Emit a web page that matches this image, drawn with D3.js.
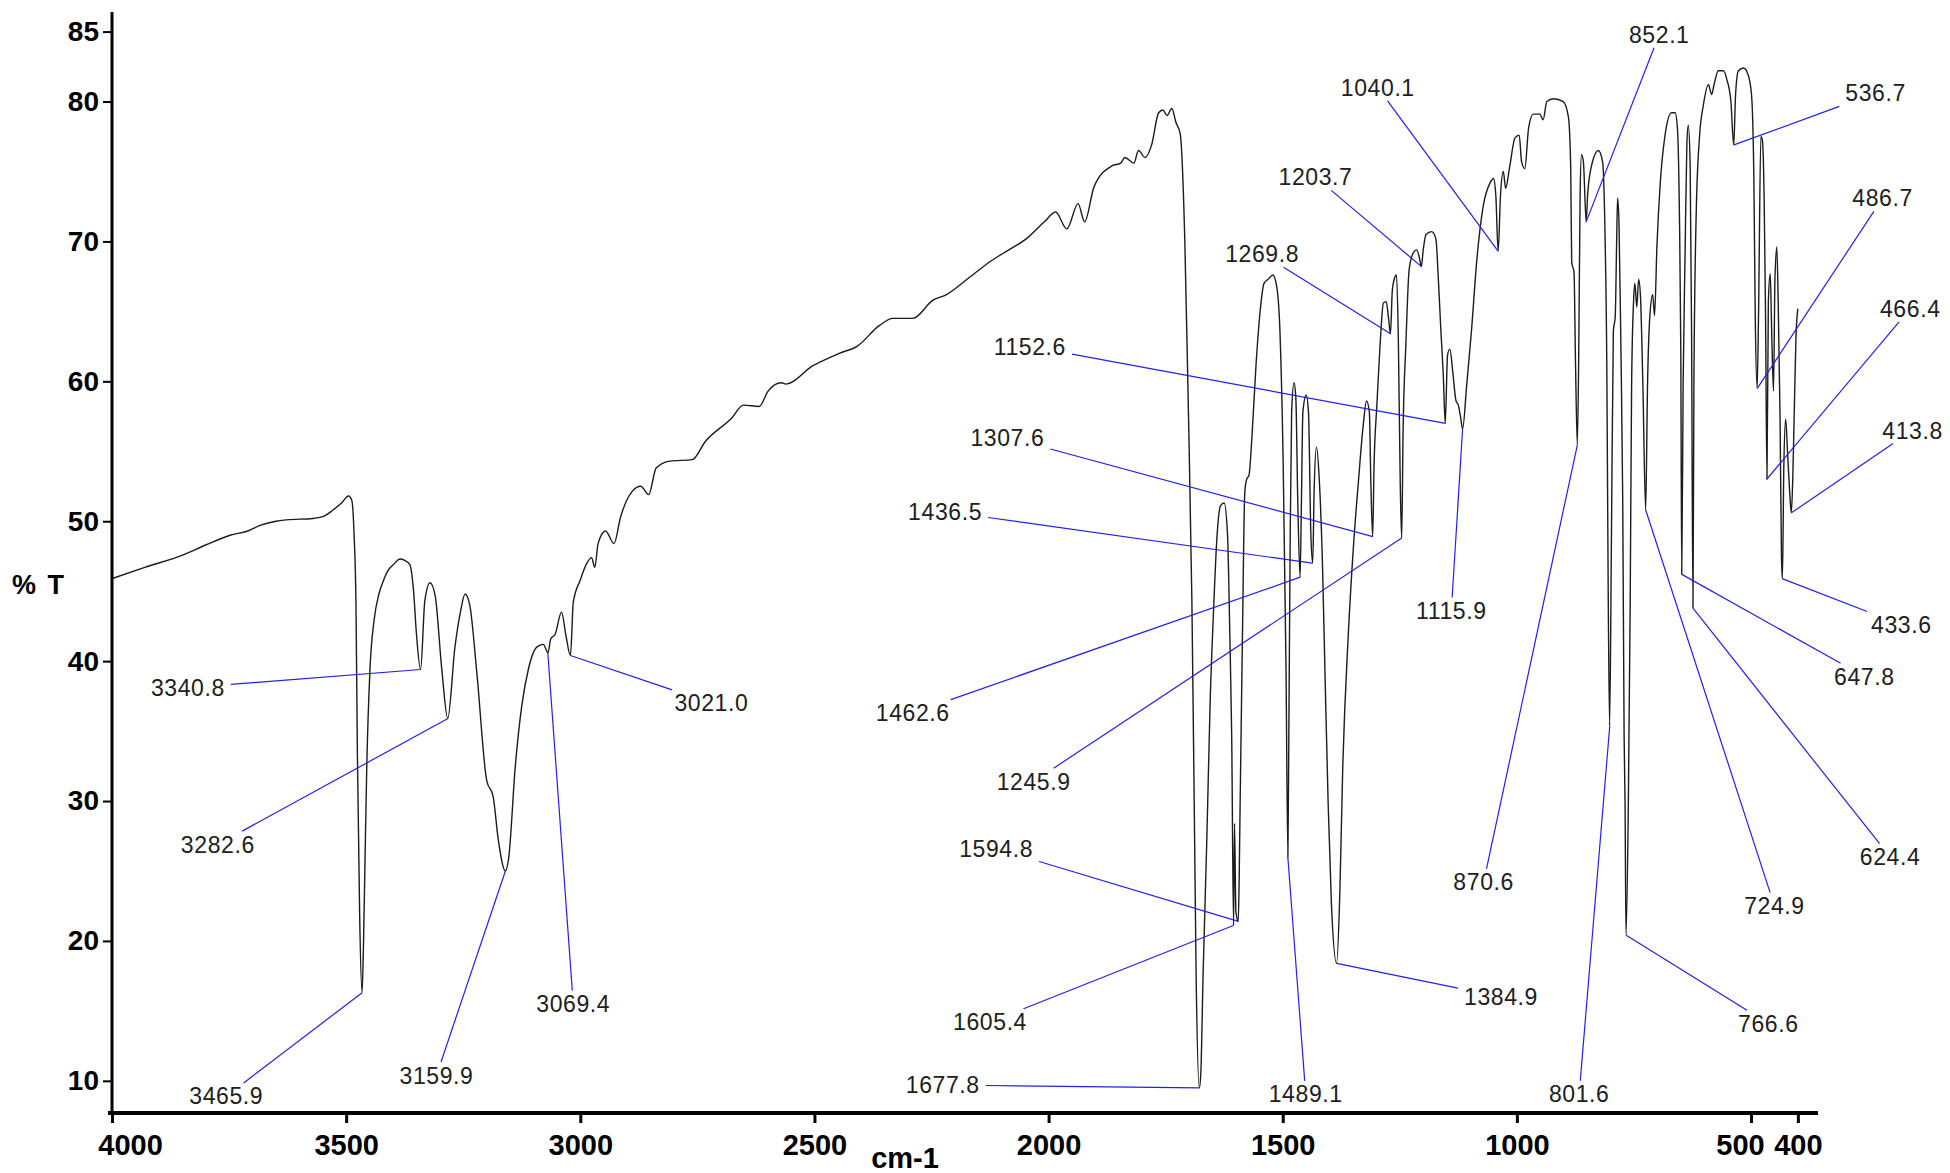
<!DOCTYPE html>
<html>
<head>
<meta charset="utf-8">
<script src="https://cdn.jsdelivr.net/npm/d3@7/dist/d3.min.js"></script>
<style>
    html, body { margin: 0; padding: 0; background: #ffffff; }
    svg { display: block; }
</style>
</head>
<body>
<svg id="ir-chart" width="1950" height="1173"></svg>
<script>
// IR spectrum: wavenumber (cm-1) and %T
const wavenumbers = [
    4000, 3930, 3848, 3800, 3748, 3710, 3684, 3650, 3627, 3571, 3545, 3528, 3510, 3495, 3488, 3483,
    3479, 3476, 3471, 3466, 3463, 3460, 3456, 3449, 3440, 3430, 3421, 3410, 3399, 3385, 3375, 3364,
    3356, 3350, 3341, 3332, 3321, 3310, 3296, 3283, 3268, 3256, 3246, 3236, 3221, 3200, 3186, 3175,
    3160, 3153, 3139, 3125, 3111, 3093, 3079, 3069, 3063, 3054, 3040, 3031, 3021, 3015, 3000, 2986,
    2976, 2969, 2962, 2946, 2928, 2914, 2890, 2871, 2854, 2838, 2809, 2761, 2733, 2676, 2652, 2618,
    2599, 2571, 2561, 2504, 2447, 2409, 2361, 2333, 2290, 2247, 2218, 2170, 2123, 2085, 2047, 2009,
    1985, 1961, 1937, 1923, 1903, 1865, 1846, 1837, 1818, 1808, 1794, 1780, 1765, 1756, 1747, 1737,
    1728, 1719, 1709, 1702, 1694, 1689, 1685, 1678, 1675, 1670, 1662, 1655, 1648, 1640, 1633, 1625,
    1618, 1613, 1609, 1605, 1603, 1600, 1595, 1593, 1591, 1586, 1581, 1577, 1572, 1566, 1557, 1548,
    1540, 1531, 1521, 1513, 1506, 1499, 1493, 1489, 1487, 1484, 1481, 1476, 1472, 1468, 1463, 1460,
    1457, 1450, 1445, 1440, 1436, 1433, 1428, 1422, 1415, 1410, 1403, 1396, 1385, 1378, 1372, 1360,
    1349, 1338, 1328, 1321, 1315, 1312, 1308, 1305, 1299, 1292, 1285, 1279, 1274, 1270, 1266, 1262,
    1257, 1253, 1249, 1246, 1243, 1237, 1230, 1221, 1214, 1208, 1204, 1200, 1194, 1182, 1173, 1168,
    1163, 1157, 1153, 1148, 1143, 1137, 1130, 1125, 1120, 1116, 1107, 1097, 1086, 1072, 1057, 1050,
    1045, 1040, 1035, 1029, 1024, 1016, 1004, 995, 990, 983, 975, 965, 951, 944, 936, 922,
    901, 890, 885, 883, 878, 875, 871, 868, 865, 862, 858, 852, 849, 840, 826, 817,
    812, 808, 805, 802, 798, 794, 790, 787, 785, 782, 778, 774, 771, 769, 767, 762,
    758, 755, 751, 748, 744, 740, 736, 731, 725, 721, 716, 710, 706, 701, 694, 684,
    670, 662, 657, 653, 650, 648, 645, 641, 637, 634, 630, 627, 624, 622, 617, 610,
    602, 591, 584, 579, 570, 559, 551, 543, 537, 533, 527, 516, 506, 499, 494, 491,
    487, 484, 479, 476, 472, 469, 466, 463, 459, 456, 452, 449, 445, 442, 438, 435,
    433, 430, 426, 422, 418, 414, 411, 408, 404, 400
];
const transmittance = [
    45.9, 46.7, 47.6, 48.3, 49.0, 49.3, 49.7, 50.0, 50.1, 50.2, 50.4, 50.8, 51.3, 51.8, 51.5, 49.0,
    44.0, 33.4, 21.5, 16.3, 19.7, 25.2, 32.4, 39.5, 43.0, 44.8, 45.7, 46.5, 46.9, 47.3, 47.2, 46.9,
    45.0, 42.0, 39.4, 44.3, 45.6, 44.7, 39.5, 35.9, 40.9, 43.5, 44.8, 44.0, 39.2, 31.5, 30.3, 27.2,
    25.0, 25.9, 32.4, 36.8, 39.4, 41.0, 41.2, 40.6, 41.6, 41.9, 43.5, 41.9, 40.4, 44.2, 45.8, 47.0,
    47.4, 46.7, 48.4, 49.3, 48.4, 50.3, 52.1, 52.5, 51.9, 53.8, 54.3, 54.4, 55.7, 57.4, 58.3, 58.2,
    59.3, 59.9, 59.8, 61.1, 62.0, 62.5, 64.0, 64.5, 64.5, 65.8, 66.2, 67.4, 68.6, 69.4, 70.2, 71.4,
    72.1, 70.9, 72.7, 71.4, 73.9, 75.4, 75.6, 76.0, 75.6, 76.5, 76.0, 76.9, 79.2, 79.4, 79.0, 79.5,
    78.5, 77.7, 69.9, 58.8, 44.3, 29.8, 17.7, 9.5, 10.5, 17.7, 27.4, 37.1, 43.4, 49.1, 51.1, 51.3,
    49.1, 41.9, 34.7, 21.1, 28.4, 22.1, 21.4, 24.5, 29.8, 41.9, 52.1, 53.0, 53.3, 55.9, 61.2, 65.1,
    67.0, 67.3, 67.6, 66.8, 63.6, 54.0, 39.5, 26.0, 34.7, 49.1, 57.8, 59.9, 58.8, 51.6, 46.0, 51.6,
    57.8, 59.0, 57.8, 49.1, 47.0, 52.1, 55.3, 53.0, 46.7, 39.5, 29.8, 22.6, 18.4, 23.5, 32.2, 41.9,
    48.2, 53.0, 56.9, 58.6, 57.8, 53.0, 48.9, 54.0, 58.3, 62.7, 65.6, 65.7, 64.5, 63.4, 66.5, 67.3,
    67.6, 62.7, 52.5, 48.8, 56.4, 62.7, 68.0, 69.2, 69.4, 68.8, 68.2, 69.4, 70.5, 70.7, 70.2, 67.5,
    64.1, 60.3, 57.0, 61.9, 62.3, 60.7, 58.6, 58.3, 57.4, 56.6, 59.8, 63.6, 68.5, 72.5, 74.2, 74.5,
    73.3, 69.3, 73.3, 75.0, 73.8, 75.2, 77.4, 77.6, 75.7, 75.2, 78.1, 79.1, 79.1, 78.7, 80.0, 80.2,
    80.0, 78.9, 75.2, 68.5, 67.8, 61.7, 55.5, 61.7, 73.3, 76.2, 75.7, 71.4, 73.3, 75.5, 76.5, 75.7,
    70.9, 61.2, 45.0, 35.4, 49.1, 63.6, 64.6, 69.9, 73.1, 71.4, 62.7, 51.6, 34.6, 29.8, 20.4, 29.8,
    44.3, 59.8, 65.6, 67.0, 65.3, 67.3, 66.0, 59.8, 50.8, 59.8, 64.7, 66.2, 64.7, 69.6, 74.1, 77.5,
    79.2, 79.2, 78.0, 72.1, 62.3, 46.2, 59.8, 68.7, 77.0, 78.3, 75.5, 63.7, 43.8, 59.8, 72.1, 77.5,
    79.7, 81.2, 80.5, 81.2, 82.2, 82.2, 81.5, 80.0, 76.9, 80.5, 82.2, 82.4, 81.9, 80.5, 74.6, 64.7,
    59.5, 64.7, 77.5, 77.3, 73.1, 64.7, 53.0, 65.7, 67.7, 63.7, 59.3, 67.2, 69.6, 65.7, 57.3, 47.5,
    45.9, 53.9, 57.3, 54.9, 52.4, 50.6, 52.9, 57.3, 63.2, 65.2
];

// Annotated peaks: wavenumber and the %T where the leader line touches the trace
const peakWavenumbers = [
    3340.8, 3282.6, 3465.9, 3159.9, 3069.4, 3021.0, 1152.6, 1307.6, 1436.5, 1462.6, 1245.9,
    1594.8, 1605.4, 1677.8, 1489.1, 1384.9, 1269.8, 1203.7, 1040.1, 852.1, 536.7, 486.7,
    466.4, 413.8, 433.6, 647.8, 624.4, 724.9, 766.6, 801.6, 870.6, 1115.9
];
const peakTransmittance = [
    39.4, 35.9, 16.3, 25.0, 40.6, 40.4, 57.0, 48.9, 47.0, 46.0, 48.8,
    21.4, 21.1, 9.5, 26.0, 18.4, 63.4, 68.2, 69.3, 71.4, 76.9, 59.5,
    53.0, 50.6, 45.9, 46.2, 43.8, 50.8, 20.4, 35.4, 55.5, 56.6
];
// Where each peak label's text is centred, in chart units (cm-1, %T)
const labelWavenumbers = [
    3838, 3774, 3756, 3307, 3015, 2720, 2040, 2088, 2221, 2290, 2032,
    2112, 2125, 2226, 1451, 1034, 1544, 1430, 1297, 696, 234, 219,
    160, 155, 179, 258, 203, 450, 463, 867, 1071, 1140
];
const labelTransmittance = [
    38.1, 26.9, 8.9, 10.4, 15.5, 37.0, 62.5, 56.0, 50.7, 36.3, 31.4,
    26.6, 14.2, 9.7, 9.05, 16.0, 69.1, 74.6, 81.0, 84.8, 80.6, 73.1,
    65.2, 56.5, 42.6, 38.9, 26.0, 22.5, 14.1, 9.05, 24.2, 43.6
];

const xTickValues = [4000, 3500, 3000, 2500, 2000, 1500, 1000, 500, 400];
const yTickValues = [10, 20, 30, 40, 50, 60, 70, 80, 85];

const layout = {
    width: 1950,
    height: 1173,
    left: 112,
    right: 1818,
    top: 12,
    bottom: 1113
};

// small horizontal nudges of crowded/edge tick labels, in px
const xLabelNudge = { 4000: 18, 500: -11 };

function drawSpectrum(svg) {
    svg.selectAll('*').remove();
    svg.append('rect')
        .attr('width', layout.width)
        .attr('height', layout.height)
        .attr('fill', '#ffffff');

    const x = d3.scaleLinear().domain([4000, 357]).range([layout.left, layout.right]);
    const y = d3.scaleLinear().domain([7.7, 86.4]).range([layout.bottom, layout.top]);

    // the trace
    const points = wavenumbers.map((wn, i) => [wn, transmittance[i]]);
    svg.append('path')
        .datum(points)
        .attr('fill', 'none')
        .attr('stroke', '#1c1c1c')
        .attr('stroke-width', 1.4)
        .attr('stroke-linejoin', 'round')
        .attr('d', d3.line()
            .x((d) => x(d[0]))
            .y((d) => y(d[1]))
            .curve(d3.curveMonotoneX));

    // peak labels with leader lines
    const labelFont = 23;
    const labels = svg.append('g');
    peakWavenumbers.forEach((wn, i) => {
        const cx = x(labelWavenumbers[i]);
        const cy = y(labelTransmittance[i]);
        const px = x(wn);
        const py = y(peakTransmittance[i]);
        const text = labels.append('text')
            .attr('x', cx)
            .attr('y', cy + labelFont * 0.36)
            .attr('text-anchor', 'middle')
            .attr('font-family', '"Liberation Sans", Arial, sans-serif')
            .attr('font-size', labelFont)
            .attr('letter-spacing', 0.6)
            .attr('fill', '#202020')
            .text(wn.toFixed(1));
        // leader starts where the line to the peak leaves the padded text box
        const hw = text.node().getComputedTextLength() / 2 + 6;
        const hh = labelFont * 0.36 + 5;
        const dx = px - cx;
        const dy = py - cy;
        const t = Math.min(dx === 0 ? Infinity : hw / Math.abs(dx), dy === 0 ? Infinity : hh / Math.abs(dy));
        labels.insert('line', 'text')
            .attr('x1', cx + dx * t)
            .attr('y1', cy + dy * t)
            .attr('x2', px)
            .attr('y2', py)
            .attr('stroke', '#2020f0')
            .attr('stroke-width', 1.2);
    });

    // axes
    const tickFont = '"Liberation Sans", Arial, sans-serif';
    const yAxis = svg.append('g')
        .attr('transform', `translate(${layout.left}, 0)`)
        .call(d3.axisLeft(y).tickValues(yTickValues).tickSize(9).tickPadding(4).tickSizeOuter(0));
    yAxis.select('.domain').remove();
    yAxis.selectAll('line').attr('stroke', '#000').attr('stroke-width', 2);
    yAxis.selectAll('text')
        .attr('font-family', tickFont)
        .attr('font-weight', 'bold')
        .attr('font-size', 28)
        .attr('fill', '#000');

    const xAxis = svg.append('g')
        .attr('transform', `translate(0, ${layout.bottom})`)
        .call(d3.axisBottom(x)
            .tickValues(xTickValues)
            .tickFormat(d3.format('d'))
            .tickSize(10)
            .tickPadding(11)
            .tickSizeOuter(0));
    xAxis.select('.domain').remove();
    xAxis.selectAll('line').attr('stroke', '#000').attr('stroke-width', 3);
    xAxis.selectAll('text')
        .attr('font-family', tickFont)
        .attr('font-weight', 'bold')
        .attr('font-size', 29)
        .attr('fill', '#000')
        .attr('dx', (d) => xLabelNudge[d] || 0);

    svg.append('line')
        .attr('x1', layout.left).attr('x2', layout.left)
        .attr('y1', layout.top).attr('y2', layout.bottom + 2)
        .attr('stroke', '#000').attr('stroke-width', 3);
    svg.append('line')
        .attr('x1', layout.left - 4).attr('x2', layout.right)
        .attr('y1', layout.bottom).attr('y2', layout.bottom)
        .attr('stroke', '#000').attr('stroke-width', 4);

    // axis titles
    svg.append('text')
        .attr('x', 905)
        .attr('y', 1168)
        .attr('text-anchor', 'middle')
        .attr('font-family', tickFont)
        .attr('font-weight', 'bold')
        .attr('font-size', 29)
        .text('cm-1');
    svg.append('text')
        .attr('x', 12)
        .attr('y', 594)
        .attr('font-family', tickFont)
        .attr('font-weight', 'bold')
        .attr('font-size', 27)
        .attr('letter-spacing', 2)
        .text('% T');
}

window.addEventListener('DOMContentLoaded', () => {
    drawSpectrum(d3.select('#ir-chart'));
});
</script>
</body>
</html>
